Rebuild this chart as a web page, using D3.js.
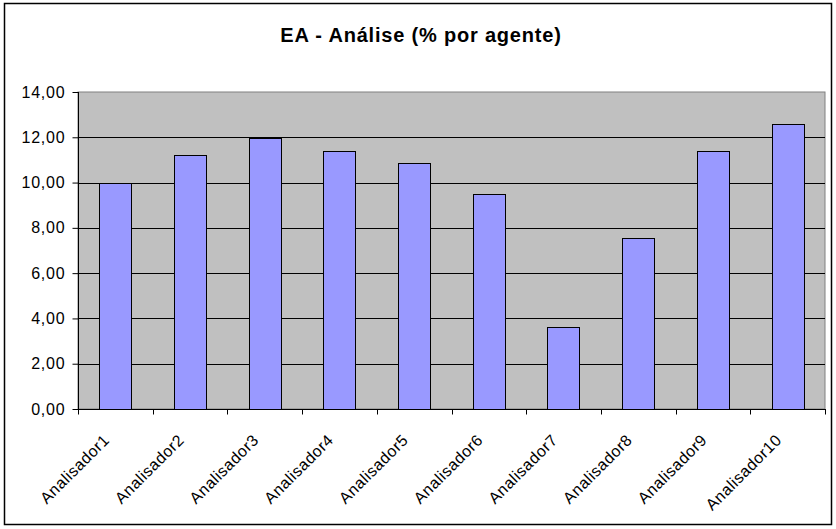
<!DOCTYPE html>
<html><head><meta charset="utf-8">
<script src="https://cdn.jsdelivr.net/npm/d3@7"></script>
<style>body{margin:0;background:#fff}svg{display:block}text{font-family:"Liberation Sans",Arial,sans-serif}</style>
</head><body><svg id="c" width="836" height="529"></svg>
<script>
const categories = ["Analisador1","Analisador2","Analisador3","Analisador4","Analisador5","Analisador6","Analisador7","Analisador8","Analisador9","Analisador10"];
const values = [10.0, 11.2, 11.95, 11.41, 10.88, 9.5, 3.62, 7.56, 11.41, 12.57];
const yTicks = [0,2,4,6,8,10,12,14];
const title = "EA - Análise (% por agente)";

const svg = d3.select("#c");
const L = 78, R = 825, T = 92, B = 409;

svg.append("rect").attr("x",4.5).attr("y",3.5).attr("width",827).attr("height",521)
  .attr("fill","#fff").attr("stroke","#000").attr("stroke-width",1.5);

const x = d3.scaleBand().domain(categories).range([L,R]).paddingInner(0.57).paddingOuter(0.285);
const xb = d3.scaleBand().domain(categories).range([L,R]);
const y = d3.scaleLinear().domain([0,14]).range([B,T]);

svg.append("rect").attr("x",L).attr("y",T).attr("width",R-L).attr("height",B-T)
  .attr("fill","#C0C0C0").attr("stroke","#808080").attr("stroke-width",1);

svg.append("g").selectAll("line").data(yTicks.slice(1,-1)).join("line")
  .attr("x1",L).attr("x2",R).attr("y1",d=>Math.round(y(d))+0.5).attr("y2",d=>Math.round(y(d))+0.5)
  .attr("stroke","#000").attr("stroke-width",1);

svg.append("g").selectAll("rect").data(values).join("rect")
  .attr("x",(d,i)=>Math.round(x(categories[i]))+0.5)
  .attr("y",d=>Math.round(y(d))+0.5)
  .attr("width",Math.round(x.bandwidth()))
  .attr("height",d=>Math.round(B-y(d)))
  .attr("fill","#9999FF").attr("stroke","#000").attr("stroke-width",1);

// y axis
const ya = svg.append("g").attr("transform",`translate(${L+0.5},0)`)
  .call(d3.axisLeft(y).tickValues(yTicks).tickSize(6).tickPadding(7).tickFormat(d=>d3.format(".2f")(d).replace(".",",")));
ya.select(".domain").attr("stroke","#000").attr("d",`M0,${T}V${B}`);
ya.selectAll(".tick line").attr("stroke","#000");
ya.selectAll(".tick text").attr("font-size",16).attr("letter-spacing","0.8px").attr("fill","#000");

// x axis
const xa = svg.append("g").attr("transform",`translate(0,${B+0.5})`);
xa.append("line").attr("x1",L).attr("x2",R+1).attr("stroke","#000");
xa.selectAll("line.t").data(d3.range(categories.length+1)).join("line").attr("class","t")
  .attr("x1",i=>Math.round(L+i*xb.step())+0.5).attr("x2",i=>Math.round(L+i*xb.step())+0.5)
  .attr("y1",0).attr("y2",5).attr("stroke","#000");

svg.append("g").selectAll("text").data(categories).join("text")
  .attr("transform",d=>`translate(${xb(d)+xb.bandwidth()/2-5},441) rotate(-45)`)
  .attr("text-anchor","end").attr("font-size",16).attr("letter-spacing","0.5px").attr("fill","#000")
  .text(d=>d);

svg.append("text").attr("x",421).attr("y",42).attr("text-anchor","middle")
  .attr("font-size",20).attr("letter-spacing","0.8px").attr("font-weight","bold").attr("fill","#000").text(title);
</script></body></html>
